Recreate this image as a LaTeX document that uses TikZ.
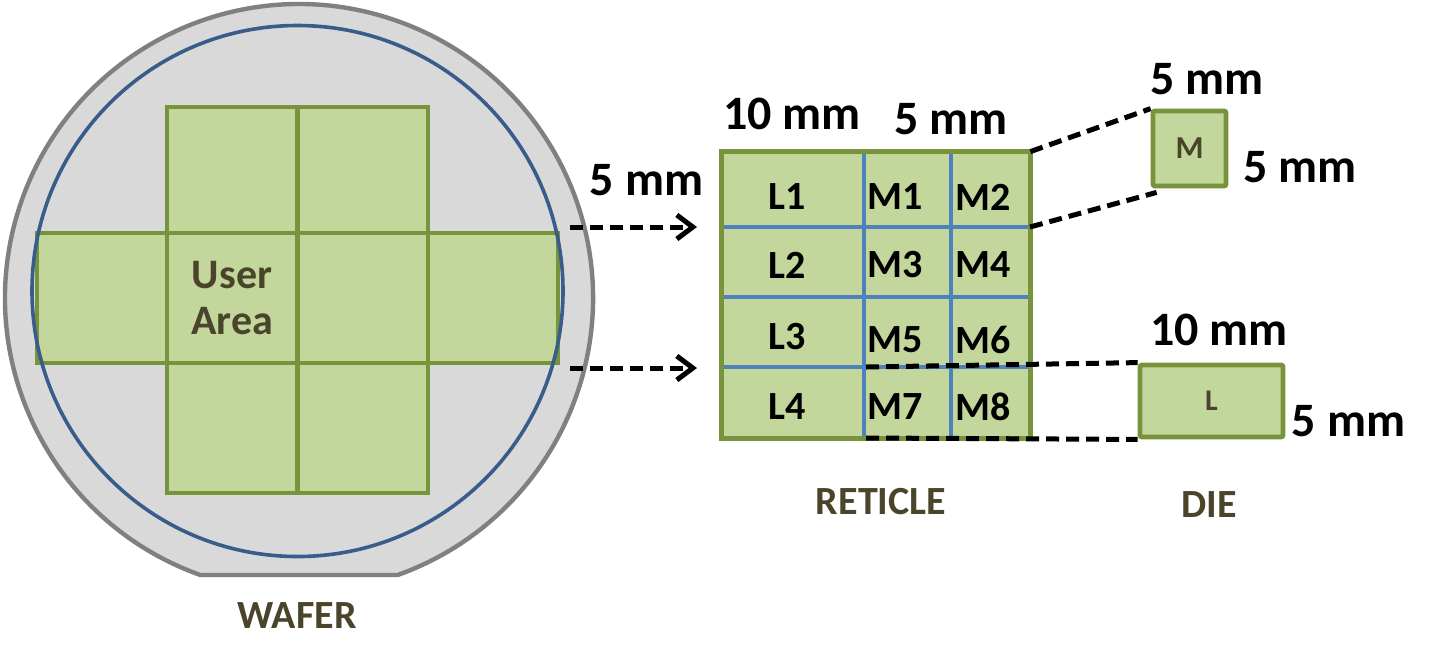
\documentclass[tikz,border=0pt]{standalone}
\usepackage{fontspec}
\setmainfont{Carlito}
\usetikzlibrary{arrows.meta}

\definecolor{cellfill}{HTML}{C3D69B}
\definecolor{celledge}{HTML}{77933C}
\definecolor{waferfill}{HTML}{D9D9D9}
\definecolor{waferedge}{HTML}{808080}
\definecolor{ringblue}{HTML}{385D8A}
\definecolor{gridblue}{HTML}{4F81BD}
\definecolor{labelolive}{HTML}{4A452A}

\begin{document}
\begin{tikzpicture}[x=0.5pt, y=-0.5pt, >={Straight Barb[length=8pt,width=12pt]},
	cell/.style={draw=celledge, fill=cellfill, line width=2.4pt, inner sep=0pt},
	dim/.style={font=\fontsize{24}{28}\selectfont\bfseries},
	tag/.style={font=\fontsize{20}{24}\selectfont\bfseries},
	caption/.style={font=\fontsize{20}{24}\selectfont\bfseries, text=labelolive},
	guide/.style={dash pattern=on 6.5pt off 3.5pt, line width=2.5pt}]
		
		\useasboundingbox (0,0) rectangle (1439,666);
		
		% Wafer
		\draw[fill=waferfill, draw=waferedge, line width=2.2pt] (200.4,575) arc[start angle=109.6, end angle=430.4, radius=294] -- cycle;
		
		% User area cells
		\foreach \name/\x/\y/\h in {c1b/232/170/63, c1c/363/170/63, c2a/102/298/65, c2c/363/298/65, c2d/493/298/65, c3b/232/428/65, c3c/363/428/65}
			\node[cell, minimum width=65pt, minimum height=\h pt] (\name) at (\x,\y) {};
		\node[cell, minimum width=65pt, minimum height=65pt, text=labelolive, align=center, font=\fontsize{21}{23}\selectfont\bfseries] (user) at (232,298) {User\\Area};
		
		\draw[ringblue, line width=1.8pt] (297.5,291) circle[radius=265.5];
		
		\node[caption] (wafer) at (297,616) {WAFER};
		
		% Reticle
		\node[fill=cellfill, minimum width=154pt, minimum height=143pt, inner sep=0pt] (reticle) at (876,295) {};
		\foreach \y in {227,297,367}
			\draw[gridblue, line width=2.4pt] (722,\y) -- (1030,\y);
		\foreach \x in {864,951}
			\draw[gridblue, line width=2.4pt] (\x,152) -- (\x,438);
		\draw[celledge, line width=2.4pt] (reticle.north west) rectangle (reticle.south east);
		
		\foreach \name/\x/\y in {L1/787/197, L2/787/265.5, L3/787/336.5, L4/787/406.5, M1/895/197, M2/983.5/197, M3/895/265, M4/983.5/265, M5/895/339.5, M6/983.5/339.5, M7/895/406.5, M8/983.5/406.5}
			\node[tag] (\name) at (\x,\y) {\name};
		
		\node[caption] (retlabel) at (881,501.5) {RETICLE};
		
		% Dies
		\node[cell, rounded corners=1pt, minimum width=36.5pt, minimum height=37.5pt, text=labelolive, font=\fontsize{16}{18}\selectfont\bfseries] (dieM) at (1189.5,148.5) {M};
		\node[cell, rounded corners=1pt, minimum width=71.5pt, minimum height=36pt, text=labelolive, font=\fontsize{15}{18}\selectfont\bfseries] (dieL) at (1211.5,401) {L};
		\node[caption] (dielabel) at (1209,505) {DIE};
		
		% Sizes
		\node[dim] (d10r) at (792,114) {10 mm};
		\node[dim] (d5r) at (951,119) {5 mm};
		\node[dim] (d5w) at (646.5,180) {5 mm};
		\node[dim] (d5mt) at (1207,79) {5 mm};
		\node[dim] (d5mr) at (1300,167.5) {5 mm};
		\node[dim] (d10l) at (1219,330) {10 mm};
		\node[dim] (d5lr) at (1348.5,421) {5 mm};
		
		% Arrows
		\coordinate (a1s) at (570,227);
		\coordinate (a1e) at (697,227);
		\coordinate (a2s) at (570,368);
		\coordinate (a2e) at (697,368);
		\draw[guide, ->] (a1s) -- (a1e);
		\draw[guide, ->] (a2s) -- (a2e);
		
		% Lines to dies
		\coordinate (m2c) at (1030,227);
		\coordinate (m5c) at (866,367);
		\coordinate (m7c) at (866,438);
		\draw[guide] (reticle.north east) -- (dieM.north west);
		\draw[guide] (m2c) -- ([xshift=3pt,yshift=-2pt]dieM.south west);
		\draw[guide] (m5c) -- (dieL.north west);
		\draw[guide] (m7c) -- (dieL.south west);
		
	\end{tikzpicture}
\end{document}
